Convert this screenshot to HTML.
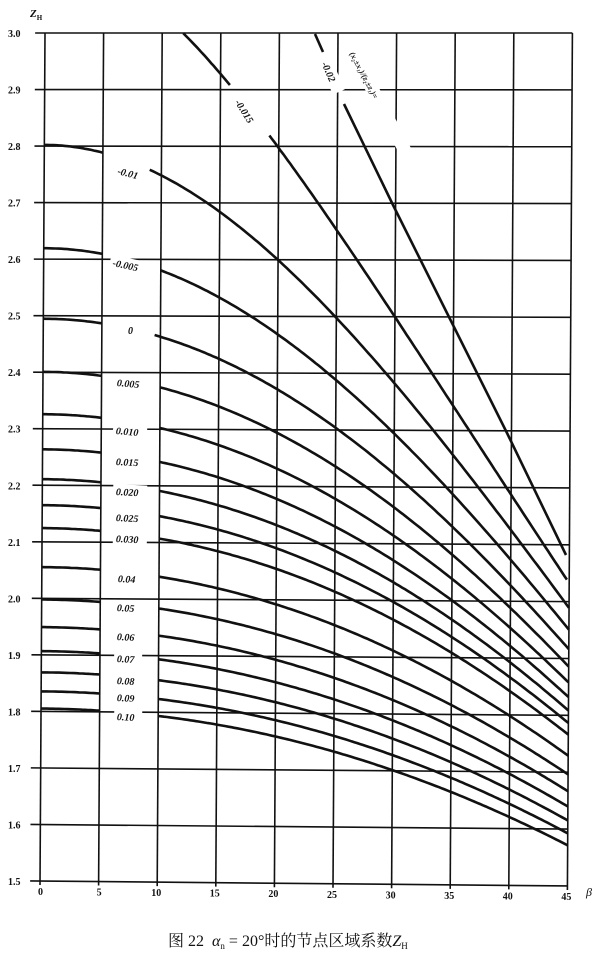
<!DOCTYPE html>
<html><head><meta charset="utf-8"><style>
html,body{margin:0;padding:0;background:#fff}
svg{display:block}
text{font-family:"Liberation Serif","Noto Serif CJK SC",serif;fill:#111}
</style></head><body>
<svg id="s" width="604" height="958" viewBox="0 0 604 958" xmlns="http://www.w3.org/2000/svg">
<g id="grid" stroke="#111" stroke-width="1.6" fill="none"></g>
<g id="curves" stroke="#111" stroke-width="2.6" fill="none" stroke-linecap="butt">
<polyline points="315,34 323,52"/>
<polyline points="344,104 393,205 450,319 507,433 566,555"/>
</g>
<g id="labels" font-size="10" font-style="italic" font-weight="bold"></g>
<g id="axes" font-size="10" font-weight="bold"></g>
<text x="30" y="17" font-size="11" font-style="italic" font-weight="bold">Z<tspan font-size="7" dy="3" font-style="normal">H</tspan></text>
<text x="586" y="896" font-size="12" font-style="italic">β</text>
<text x="168" y="946" font-size="16" font-family="Liberation Sans, Noto Sans CJK SC, sans-serif">图 22 &#160;<tspan font-style="italic" font-family="Liberation Serif, serif">α</tspan><tspan font-size="9" dy="3">n</tspan><tspan dy="-3"> = 20°时的节点区域系数</tspan><tspan font-style="italic" font-family="Liberation Serif, serif">Z</tspan><tspan font-size="9" dy="3">H</tspan></text>
</svg>
<script>
(function(){
var NS="http://www.w3.org/2000/svg";
function P(b,z){var v=(3.0-z)/1.5;return [45+11.72*b-5*v,33+848*v+0.11*b*v];}
function el(p,tag,a){var e=document.createElementNS(NS,tag);for(var k in a)e.setAttribute(k,a[k]);p.appendChild(e);return e;}
var g=document.getElementById('grid');
for(var i=0;i<=15;i++){var z=3.0-i*0.1;var a=P(-0.5,z),b=P(45,z);
 el(g,'line',{x1:a[0]-4,y1:a[1],x2:b[0],y2:b[1]});}
for(var j=0;j<=9;j++){var bb=j*5;var a=P(bb,3.0),b=P(bb,1.5);
 el(g,'line',{x1:a[0],y1:a[1],x2:b[0],y2:b[1]+4});}
var ax=document.getElementById('axes');
for(var i=0;i<=15;i++){var z=3.0-i*0.1;var a=P(0,z);
 var t=el(ax,'text',{x:8,y:a[1]+4});t.textContent=z.toFixed(1);}
for(var j=0;j<=9;j++){var a=P(j*5,1.5);var t=el(ax,'text',{x:a[0]-2-(j*5>=10?4:0),y:a[1]+14});t.textContent=String(j*5);}
var D=Math.PI/180,tan20=Math.tan(20*D);
function inv(a){return Math.tan(a)-a;}
function ZH(beta,x){var bt=beta*D;var at=Math.atan(tan20/Math.cos(bt));
 var tgt=2*tan20*x+inv(at);var a=at;
 for(var k=0;k<60;k++){var f=inv(a)-tgt;var d=Math.tan(a)*Math.tan(a);a-=f/d;if(a<0.001)a=0.001;}
 var bb=Math.atan(Math.tan(bt)*Math.cos(at));
 return Math.sqrt(2*Math.cos(bb)*Math.cos(a)/(Math.cos(at)*Math.cos(at)*Math.sin(a)));}
var cg=document.getElementById('curves');
function seg(x,b0,b1,zmax,zmin){var pts=[];for(var b=b0;b<=b1+1e-6;b+=0.25){var z=ZH(b,x);
 if(z>zmax||z<zmin){if(pts.length>1)el(cg,'polyline',{points:pts.join(' ')});pts=[];continue;}
 var p=P(b,z);pts.push(p[0].toFixed(1)+','+p[1].toFixed(1));}
 if(pts.length>1)el(cg,'polyline',{points:pts.join(' ')});}
var xs=[-0.01,-0.005,0,0.005,0.01,0.015,0.02,0.025,0.03,0.04,0.05,0.06,0.07,0.08,0.09,0.10];
xs.forEach(function(x){seg(x,0,5,3.0,1.4);seg(x,x==-0.01?9:(x==0?9.5:10),45,3.0,1.4);});
(function(){var x=-0.015,pts=[];for(var b=0;b<=45;b+=0.2){var z=ZH(b,x);if(z>3.0)continue;
 if(z<2.905&&z>2.82){if(pts.length>1)el(cg,'polyline',{points:pts.join(' ')});pts=[];continue;}
 var p=P(b,z);pts.push(p[0].toFixed(1)+','+p[1].toFixed(1));}el(cg,'polyline',{points:pts.join(' ')});})();
var lg=document.getElementById('labels');
var L=[["-0.01",118,170,15],["-0.005",113,262,12],["0",128,330,0],["0.005",117,382,5],["0.010",116,430,5],["0.015",116,461,3],["0.020",116,491,3],["0.025",116,517,3],["0.030",116,538,3],["0.04",118,578,3],["0.05",117,607,3],["0.06",117,636,3],["0.07",117,658,3],["0.08",117,680,3],["0.09",117,697,3],["0.10",117,716,3]];
L.forEach(function(l){el(lg,'rect',{x:l[1]-3,y:l[2]-7,width:l[0].length*6+4,height:13,fill:'#fff',transform:'rotate('+l[3]+' '+l[1]+' '+l[2]+')'});
 var t=el(lg,'text',{x:l[1],y:l[2]+4,transform:'rotate('+l[3]+' '+l[1]+' '+l[2]+')'});t.textContent=l[0];});
[["-0.015",238,100,58],["-0.02",325,62,66]].forEach(function(l){el(lg,'rect',{x:l[1]-3,y:l[2]-7,width:l[0].length*6+6,height:13,fill:'#fff',transform:'rotate('+l[3]+' '+l[1]+' '+l[2]+')'});
 var t=el(lg,'text',{x:l[1],y:l[2]+4,transform:'rotate('+l[3]+' '+l[1]+' '+l[2]+')'});t.textContent=l[0];});
el(lg,'rect',{x:352,y:44,width:125,height:13,fill:'#fff',transform:'rotate(62 352 50)'});
var t=el(lg,'text',{x:354,y:54,'font-size':'8',transform:'rotate(62 352 50)'});t.textContent="(x\u2082\u00b1x\u2081)/(z\u2082\u00b1z\u2081)=";
})();
</script>
</body></html>
